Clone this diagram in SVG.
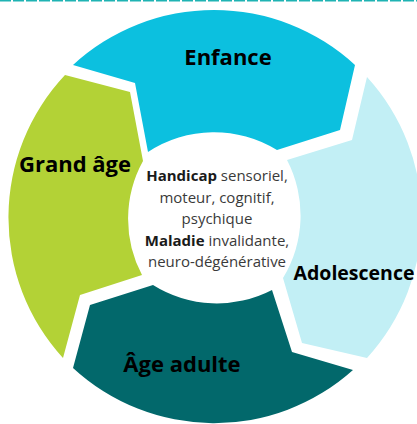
<svg xmlns="http://www.w3.org/2000/svg" width="417" height="424" viewBox="0 0 417 424">
  <style>
    .lbl { font-family: "Open Sans", "Noto Sans", "DejaVu Sans", sans-serif; font-weight: 700; font-size: 22px; fill: #000; text-anchor: middle; }
    .ctr { font-family: "Open Sans", "Noto Sans", "DejaVu Sans", sans-serif; font-size: 15px; fill: #3a3a3a; text-anchor: middle; }
    .ctr .b { font-weight: 700; fill: #1a1a1a; }
  </style>
  <rect x="0" y="0" width="417" height="424" fill="#ffffff"/>
  <line x1="0" y1="0.8" x2="417" y2="0.8" stroke="#1fb3b3" stroke-width="1.6" stroke-dasharray="11 2"/>

  <g id="enfance">
    <path d="M73,65 A208,208 0 0 1 355,65 L340,130 L277,150 A120,120 0 0 0 148,152 L135,83 Z" fill="#0cc0df"/>
    <text class="lbl" x="228" y="65">Enfance</text>
  </g>
  <g id="adolescence">
    <path d="M367,77 A208,208 0 0 1 367,358 L302,343 L283,278 A120,120 0 0 0 287,160 L352,140 Z" fill="#c2eff5"/>
    <text class="lbl" x="354" y="280" style="font-size:19.5px">Adolescence</text>
  </g>
  <g id="age-adulte">
    <path d="M353,370 A208,208 0 0 1 73,368 L90,305 L153,285 A120,120 0 0 0 272,290 L292,352 Z" fill="#02686b"/>
    <text class="lbl" x="182" y="372">Âge adulte</text>
  </g>
  <g id="grand-age">
    <path d="M63,358 A208,208 0 0 1 65,75 L130,92 L143,161 A120,120 0 0 0 142,275 L80,295 Z" fill="#b3d236"/>
    <text class="lbl" x="75" y="172">Grand âge</text>
  </g>
  <g id="centre">
    <text class="ctr" x="217" y="181"><tspan class="b">Handicap</tspan> sensoriel,</text>
    <text class="ctr" x="217" y="203">moteur, cognitif,</text>
    <text class="ctr" x="217" y="224">psychique</text>
    <text class="ctr" x="217" y="246"><tspan class="b">Maladie</tspan> invalidante,</text>
    <text class="ctr" x="217" y="267">neuro-dégénérative</text>
  </g>
  <g id="connectors"></g>
</svg>
